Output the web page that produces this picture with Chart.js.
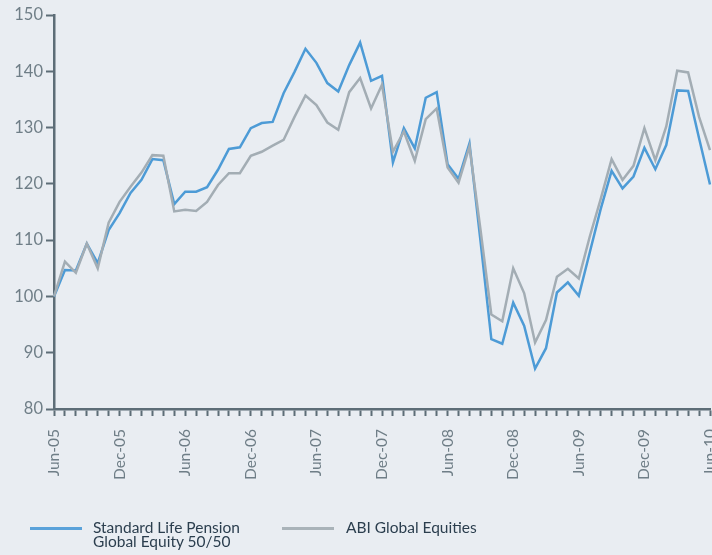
<!DOCTYPE html>
<html>
<head>
<meta charset="utf-8">
<script src="https://cdn.jsdelivr.net/npm/chart.js@4.4.1/dist/chart.umd.min.js"></script>
<style>
  html, body { margin: 0; padding: 0; background: #e9edf2; }
  #wrap { position: relative; width: 712px; height: 555px; overflow: hidden; }
  #legend { position: absolute; left: 0; top: 0; width: 712px; height: 555px; pointer-events: none;
            font-family: Lato, "Noto Sans", sans-serif; font-size: 15.5px; color: #2b3e4e; }
  .key { position: absolute; height: 3px; }
  .txt { position: absolute; line-height: 14px; }
</style>
</head>
<body>
<div id="wrap">
  <canvas id="myChart" width="712" height="555"></canvas>
  <div id="legend">
    <div class="key" style="left:30px; top:527px; width:52px; background:#5aa2da;"></div>
    <div class="txt" style="left:93px; top:520px;">Standard Life Pension<br>Global Equity 50/50</div>
    <div class="key" style="left:282px; top:527px; width:52px; background:#a9b3b9;"></div>
    <div class="txt" style="left:346px; top:520px;">ABI Global Equities</div>
  </div>
</div>
<script>
// month-end index values, Jun-05 = 100
const monthNames = ['Jan', 'Feb', 'Mar', 'Apr', 'May', 'Jun', 'Jul', 'Aug', 'Sep', 'Oct', 'Nov', 'Dec'];
const months = [];
for (let i = 0; i <= 60; i++) {
    const m = (5 + i) % 12;
    const y = 5 + Math.floor((5 + i) / 12);
    months.push(monthNames[m] + '-' + String(y).padStart(2, '0'));
}

const standardLife = [
    100, 104.7, 104.6, 109.4, 105.9, 111.8, 114.8, 118.4, 120.7, 124.4,
    124.2, 116.4, 118.6, 118.6, 119.4, 122.5, 126.2, 126.5, 129.9, 130.8,
    131.0, 136.1, 139.9, 144.0, 141.5, 137.9, 136.4, 141.1, 145.1, 138.3,
    139.2, 123.8, 129.9, 126.3, 135.3, 136.3, 123.5, 120.9, 127.2, 110.0,
    92.4, 91.6, 98.9, 94.8, 87.2, 90.8, 100.7, 102.5, 100.1, 107.8,
    115.5, 122.3, 119.2, 121.3, 126.4, 122.6, 126.9, 136.6, 136.5, 128.1,
    119.9
];

const abiGlobal = [
    100, 106.2, 104.2, 109.4, 105.0, 113.1, 116.8, 119.5, 122.0, 125.1,
    125.0, 115.1, 115.4, 115.2, 116.8, 119.8, 121.9, 121.9, 125.0, 125.7,
    126.8, 127.8, 131.9, 135.7, 134.0, 130.9, 129.6, 136.3, 138.8, 133.4,
    137.6, 125.7, 129.3, 124.1, 131.5, 133.4, 122.9, 120.2, 126.6, 112.0,
    96.8, 95.6, 105.0, 100.6, 91.8, 95.8, 103.5, 104.9, 103.2, 110.6,
    117.3, 124.4, 120.7, 123.2, 129.9, 124.2, 130.2, 140.1, 139.8, 131.9,
    126.0
];

const yTicks = [80, 90, 100, 110, 120, 130, 140, 150];

const axisColor = '#5d6d77';
const labelColor = '#6f7e87';

let ctx = document.getElementById('myChart').getContext('2d');

let dataChart = new Chart(ctx, {
    type: 'line',
    data: {
        labels: months,
        datasets: [{
            label: 'Standard Life Pension Global Equity 50/50',
            data: standardLife,
            borderColor: '#4d9bd6',
            borderWidth: 2.5,
            pointRadius: 0,
            tension: 0,
            order: 1
        }, {
            label: 'ABI Global Equities',
            data: abiGlobal,
            borderColor: '#a3adb4',
            borderWidth: 2.5,
            pointRadius: 0,
            tension: 0,
            order: 0
        }]
    },
    options: {
        responsive: false,
        animation: false,
        layout: {
            padding: { top: 15, right: 2, bottom: 0, left: 0 }
        },
        plugins: {
            legend: { display: false },
            tooltip: { enabled: false }
        },
        scales: {
            x: {
                type: 'category',
                border: { display: true, color: axisColor, width: 2.5 },
                grid: {
                    drawOnChartArea: false,
                    drawTicks: true,
                    tickLength: 7,
                    tickWidth: 2,
                    tickColor: axisColor
                },
                ticks: {
                    autoSkip: false,
                    minRotation: 90,
                    maxRotation: 90,
                    padding: 13,
                    color: labelColor,
                    font: { family: 'Lato', size: 15.5 },
                    callback: function(val, i) {
                        return i % 6 === 0 ? months[i] : '';
                    }
                },
                afterFit: function(scale) {
                    scale.height = 146;
                    scale.paddingLeft = 0;
                    scale.paddingRight = 0;
                }
            },
            y: {
                min: 80,
                max: 150,
                border: { display: true, color: axisColor, width: 2.5 },
                grid: {
                    drawOnChartArea: false,
                    drawTicks: true,
                    tickLength: 8,
                    tickWidth: 2,
                    tickColor: axisColor
                },
                afterBuildTicks: function(scale) {
                    scale.ticks = yTicks.map(v => ({ value: v }));
                },
                ticks: {
                    padding: 3,
                    color: labelColor,
                    font: { family: 'Lato', size: 16.5 }
                },
                afterFit: function(scale) {
                    scale.width = 54;
                }
            }
        }
    }
});
</script>
</body>
</html>
